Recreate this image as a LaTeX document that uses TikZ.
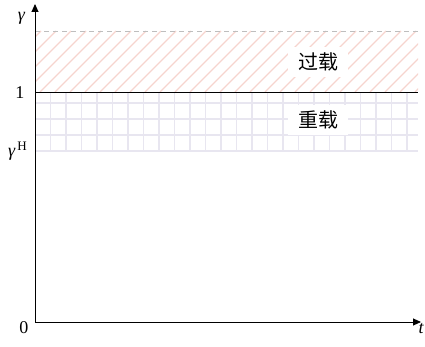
\documentclass[tikz,border=0pt]{standalone}
\usepackage{fontspec}
\setmainfont{Liberation Serif}
\newfontfamily\cjk{Noto Sans CJK SC}
\usetikzlibrary{arrows.meta}
\definecolor{hatchc}{RGB}{246,212,206}
\definecolor{gridc}{RGB}{232,230,240}
\definecolor{dashc}{RGB}{190,190,190}
\tikzset{
  axis/.style={line width=0.9pt,-{Triangle[length=8pt,width=7pt]}},
  lbl/.style={font=\fontsize{18}{20}\selectfont,inner sep=0pt,anchor=base},
  zone/.style={font=\cjk\fontsize{20}{22}\selectfont,fill=white,inner sep=0pt,minimum width=60pt,minimum height=30pt}
}
\begin{document}
\begin{tikzpicture}[x=1pt,y=-1pt]
\useasboundingbox (0,0) rectangle (425,347);
% hatch region
\begin{scope}
\clip (35,31) rectangle (418,92);
\foreach \i in {-80,-65,...,440} {
  \draw[hatchc,line width=1.2pt] (\i,92) -- (\i+61,31);
}
\end{scope}
% grid region
\begin{scope}
\clip (35,92) rectangle (418,152);
\foreach \x in {50.5,66,...,420} \draw[gridc,line width=1.6pt] (\x,92) -- (\x,152);
\foreach \y in {103,119,135,151} \draw[gridc,line width=1.6pt] (35,\y) -- (418,\y);
\end{scope}
\coordinate (dl) at (35,31);
\coordinate (dr) at (418,31);
\draw[dashc,dashed,dash pattern=on 5pt off 4pt,line width=0.6pt] (dl) -- (dr);
\coordinate (sl) at (35,92);
\coordinate (sr) at (418,92);
\draw[line width=0.9pt] (sl) -- (sr);
% axes
\coordinate (o) at (35,322);
\coordinate (ytip) at (35,4);
\coordinate (xtip) at (421,322);
\draw[axis] (o) -- (ytip);
\draw[axis] (o) -- (xtip);
% labels
\node[lbl] (gam) at (21.5,21) {\itshape γ};
\node[lbl] (one) at (20,98.5) {1};
\node[lbl,anchor=base west] (gh) at (8,157) {\itshape γ\raisebox{6pt}{\upshape\fontsize{13}{15}\selectfont\,H}};
\node[lbl] (zero) at (24,333) {0};
\node[lbl] (t) at (421,333) {\itshape t};
\node[zone] (over) at (318,62) {过载};
\node[zone] (heavy) at (318,120) {重载};
\end{tikzpicture}
\end{document}
